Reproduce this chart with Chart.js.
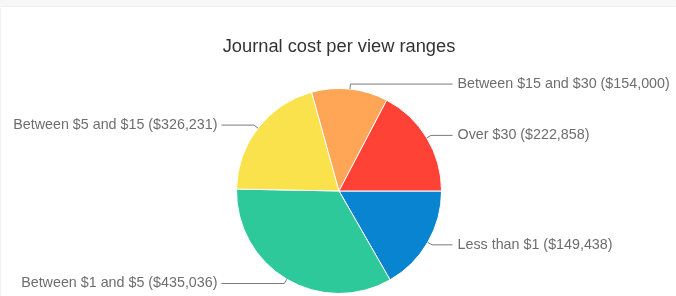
<!DOCTYPE html>
<html>
<head>
<meta charset="utf-8">
<script src="https://cdn.jsdelivr.net/npm/chart.js@4/dist/chart.umd.min.js"></script>
<style>
  html, body { margin: 0; padding: 0; background: #f7f7f7; }
  #card { position: absolute; left: 1px; top: 7px; width: 675px; height: 289px; background: #fff; box-shadow: 0 0 2px rgba(0,0,0,0.08); }
  #c { position: absolute; left: 0; top: 0; }
</style>
</head>
<body>
<div id="card"></div>
<canvas id="c" width="676" height="296"></canvas>
<script>
const titleText = 'Journal cost per view ranges';
const categories = ['Less than $1', 'Between $1 and $5', 'Between $5 and $15', 'Between $15 and $30', 'Over $30'];
const amounts = [149438, 435036, 326231, 154000, 222858];
// slice shares (%)
const sliceShares = [16.7, 33.6, 20.4, 12.0, 17.3];
const sliceColors = ['#0984d0', '#2ec99a', '#f9e24b', '#ffa556', '#ff4136'];

const labelTexts = categories.map((c, i) => c + ' ($' + amounts[i].toLocaleString('en-US') + ')');

const leaderPlugin = {
  id: 'leaders',
  afterDatasetsDraw(chart) {
    const ctx = chart.ctx;
    const meta = chart.getDatasetMeta(0);
    ctx.save();
    ctx.font = '14.3px "Liberation Sans", Arial, sans-serif';
    ctx.textBaseline = 'middle';
    meta.data.forEach((arc, i) => {
      const p = arc.getProps(['x', 'y', 'startAngle', 'endAngle', 'outerRadius'], true);
      const mid = (p.startAngle + p.endAngle) / 2;
      const R = p.outerRadius;
      const ax = p.x + Math.cos(mid) * R, ay = p.y + Math.sin(mid) * R;
      const ex = p.x + Math.cos(mid) * (R + 5), ey = p.y + Math.sin(mid) * (R + 5);
      const right = Math.cos(mid) >= 0;
      const endX = right ? p.x + R + 11 : p.x - R - 15;
      ctx.strokeStyle = '#7a7a7a';
      ctx.lineWidth = 1;
      ctx.beginPath();
      ctx.moveTo(ax, ay);
      ctx.lineTo(ex, ey);
      ctx.lineTo(endX, ey);
      ctx.stroke();
      ctx.fillStyle = '#6e6e6e';
      ctx.textAlign = right ? 'left' : 'right';
      ctx.fillText(labelTexts[i], right ? endX + 5 : endX - 4, ey);
    });
    ctx.restore();
  }
};

new Chart(document.getElementById('c'), {
  type: 'pie',
  data: {
    labels: categories,
    datasets: [{
      data: sliceShares,
      backgroundColor: sliceColors,
      borderColor: '#ffffff',
      borderWidth: 1
    }]
  },
  options: {
    responsive: false,
    animation: false,
    rotation: 90,
    layout: { padding: { left: 2, right: 0, top: 0, bottom: 2 } },
    plugins: {
      legend: { display: false },
      tooltip: { enabled: false },
      title: {
        display: true,
        text: titleText,
        color: '#333',
        font: { size: 18.3, family: '"Liberation Sans", Arial, sans-serif', weight: 'normal' },
        padding: { top: 36, bottom: 30 }
      }
    }
  },
  plugins: [leaderPlugin]
});
</script>
</body>
</html>
